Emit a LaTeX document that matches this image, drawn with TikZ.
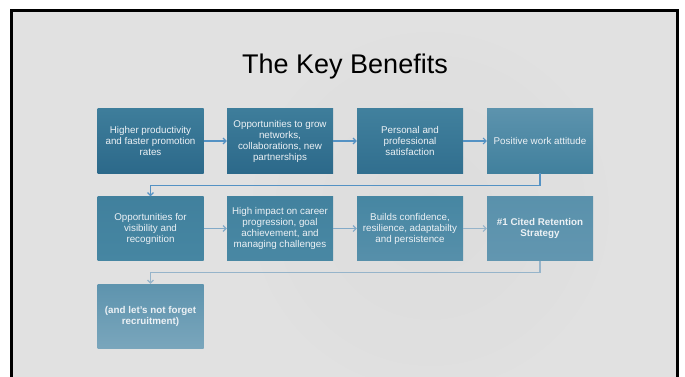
\documentclass[tikz,border=0pt]{standalone}
\usepackage{fontspec}
\setmainfont{Liberation Sans}
\usetikzlibrary{arrows.meta}

\definecolor{slidebg}{RGB}{225,225,225}
\definecolor{boxdark}{RGB}{44,105,138}
\definecolor{boxmid}{RGB}{70,134,162}
\definecolor{boxlight}{RGB}{98,150,176}
\definecolor{arrowblue}{RGB}{84,146,196}
\definecolor{arrowpale}{RGB}{150,180,202}
\definecolor{boxtext}{RGB}{236,241,245}

\def\boxw{106}
\def\boxh{64}
\def\drop{12}

\tikzset{
  benefit/.style={minimum width=\boxw pt, minimum height=\boxh pt, inner sep=2pt,
    align=center, text=boxtext, font=\fontsize{9.8}{11}\selectfont},
  flow/.style={line width=1.1pt, -{Straight Barb[length=3pt,width=6pt]}},
}

\begin{document}
\begin{tikzpicture}[x=1pt,y=-1pt]
\useasboundingbox (0,0) rectangle (685,377);

% Slide
\fill[white] (0,0) rectangle (685,377);
\fill[slidebg] (11,10) rectangle (678,377);
\shade[inner color=black!15, outer color=slidebg, opacity=0.5] (430,210) circle (190);
\draw[line width=2.8pt] (11.3,377) -- (11.3,10.3) -- (677.4,10.3) -- (677.4,377); % Frame

% Title
\node[font=\fontsize{27}{32}\selectfont] (title) at (345,67) {The Key Benefits};

% Row 1
\node[benefit, top color=boxmid!70!boxdark, bottom color=boxdark] (prod) at (150.5,141) {Higher productivity\\and faster promotion\\rates};
\node[benefit, top color=boxmid!70!boxdark, bottom color=boxdark] (grow) at (280,141) {Opportunities to grow\\networks,\\collaborations, new\\partnerships};
\node[benefit, top color=boxmid!80!boxdark, bottom color=boxdark!80!boxmid] (satis) at (410,141) {Personal and\\professional\\satisfaction};
\node[benefit, top color=boxlight!80!boxmid, bottom color=boxmid!80!boxdark] (attit) at (540,141) {Positive work attitude};

% Row 2
\node[benefit, top color=boxmid!80!boxdark, bottom color=boxmid] (visib) at (150.5,228.5) {Opportunities for\\visibility and\\recognition};
\node[benefit, top color=boxmid!85!boxdark, bottom color=boxmid!90!boxlight] (career) at (280,228.5) {High impact on career\\progression, goal\\achievement, and\\managing challenges};
\node[benefit, top color=boxmid, bottom color=boxlight!60!boxmid] (conf) at (410,228.5) {Builds confidence,\\resilience, adaptabilty\\and persistence};
\node[benefit, top color=boxlight!70!boxmid, bottom color=boxlight, font=\fontsize{9.8}{11}\selectfont\bfseries] (reten) at (540,228.5) {\#1 Cited Retention\\Strategy};

% Row 3
\node[benefit, top color=boxlight!85!boxmid, bottom color=boxlight!85!white, font=\fontsize{9.8}{11}\selectfont\bfseries] (recruit) at (150.5,316) {(and let's not forget\\recruitment)};

% Connectors
\draw[flow, arrowblue] (prod) -- (grow);
\draw[flow, arrowblue] (grow) -- (satis);
\draw[flow, arrowblue] (satis) -- (attit);
\draw[flow, arrowblue] (attit.south) -- ++(0,\drop) -| (visib.north);
\draw[flow, arrowpale!70!arrowblue] (visib) -- (career);
\draw[flow, arrowpale!70!arrowblue] (career) -- (conf);
\draw[flow, arrowpale] (conf) -- (reten);
\draw[flow, arrowpale] (reten.south) -- ++(0,\drop) -| (recruit.north);

\end{tikzpicture}
\end{document}
